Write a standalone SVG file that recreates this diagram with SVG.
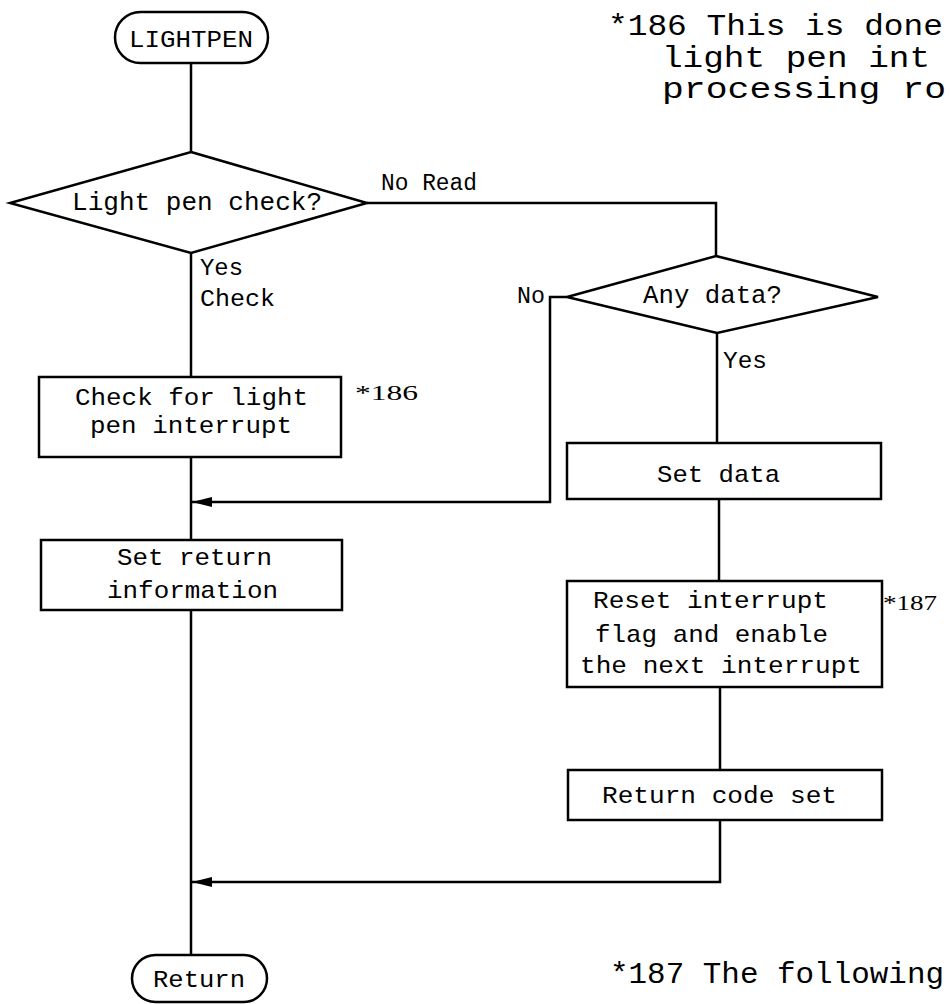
<svg xmlns="http://www.w3.org/2000/svg" width="950" height="1004" viewBox="0 0 950 1004">
<style>
.shape{fill:#fff;stroke:#000;stroke-width:2.5}
.line{fill:none;stroke:#000;stroke-width:2.5}
text{font-family:"Liberation Mono","DejaVu Sans Mono",monospace;fill:#000}
.t{font-size:24px}
.lbl{font-size:23px}
.note{font-size:30px}
.ref{font-family:"Liberation Serif","DejaVu Serif",serif;font-size:21px}
</style>
<defs>
<marker id="arr" markerWidth="20" markerHeight="10" refX="20" refY="5" orient="auto" markerUnits="userSpaceOnUse">
<path d="M0,0 L20,5 L0,10 Z" fill="#000"/>
</marker>
</defs>
<rect width="950" height="1004" fill="#fff"/>
<g id="connectors">
<path class="line" d="M191,63 V152"/>
<path class="line" d="M191,253 V377"/>
<path class="line" d="M191,457 V540"/>
<path class="line" d="M191,610 V955"/>
<path class="line" d="M367,203 H716 V256"/>
<path class="line" d="M717,333 V443"/>
<path class="line" d="M719,499 V581"/>
<path class="line" d="M720,687 V770"/>
<path class="line" d="M567,297 H550 V502 H192" marker-end="url(#arr)"/>
<path class="line" d="M720,820 V882 H192" marker-end="url(#arr)"/>
</g>
<g id="lightpen">
<rect class="shape" x="115" y="12" width="153" height="51" rx="25.5"/>
<text class="t" x="129" y="47" textLength="124" lengthAdjust="spacingAndGlyphs">LIGHTPEN</text>
</g>
<g id="check-decision">
<polygon class="shape" points="191,152 367,203 191,253 10,203"/>
<text x="72" y="210" font-size="26" textLength="250" lengthAdjust="spacingAndGlyphs">Light pen check?</text>
</g>
<g id="any-data">
<polygon class="shape" points="716,256 878,297 717,333 567,297"/>
<text x="643" y="303" font-size="26" textLength="139" lengthAdjust="spacingAndGlyphs">Any data?</text>
</g>
<g id="check-interrupt">
<rect class="shape" x="39" y="377" width="302" height="80"/>
<text class="t" x="75" y="405" textLength="233" lengthAdjust="spacingAndGlyphs">Check for light</text>
<text class="t" x="90" y="433" textLength="202" lengthAdjust="spacingAndGlyphs">pen interrupt</text>
</g>
<g id="set-return">
<rect class="shape" x="41" y="540" width="301" height="70"/>
<text class="t" x="117" y="565" textLength="155" lengthAdjust="spacingAndGlyphs">Set return</text>
<text class="t" x="107" y="598" textLength="171" lengthAdjust="spacingAndGlyphs">information</text>
</g>
<g id="set-data">
<rect class="shape" x="567" y="443" width="314" height="56"/>
<text class="t" x="657" y="482" textLength="123" lengthAdjust="spacingAndGlyphs">Set data</text>
</g>
<g id="reset-interrupt">
<rect class="shape" x="567" y="581" width="315" height="106"/>
<text class="t" x="593" y="608" textLength="235" lengthAdjust="spacingAndGlyphs">Reset interrupt</text>
<text class="t" x="595" y="642" textLength="233" lengthAdjust="spacingAndGlyphs">flag and enable</text>
<text class="t" x="580" y="673" textLength="282" lengthAdjust="spacingAndGlyphs">the next interrupt</text>
</g>
<g id="return-code">
<rect class="shape" x="568" y="770" width="314" height="50"/>
<text class="t" x="602" y="803" textLength="235" lengthAdjust="spacingAndGlyphs">Return code set</text>
</g>
<g id="return">
<rect class="shape" x="132" y="955" width="135" height="47" rx="23.5"/>
<text class="t" x="153" y="987" textLength="92" lengthAdjust="spacingAndGlyphs">Return</text>
</g>
<g id="labels">
<text class="lbl" x="381" y="190" textLength="96" lengthAdjust="spacingAndGlyphs">No Read</text>
<text class="lbl" x="200" y="275" textLength="43" lengthAdjust="spacingAndGlyphs">Yes</text>
<text class="lbl" x="200" y="306" textLength="75" lengthAdjust="spacingAndGlyphs">Check</text>
<text class="lbl" x="517" y="303" textLength="28" lengthAdjust="spacingAndGlyphs">No</text>
<text class="lbl" x="723" y="368" textLength="44" lengthAdjust="spacingAndGlyphs">Yes</text>
<text class="ref" x="355" y="400" textLength="63" lengthAdjust="spacingAndGlyphs">*186</text>
<text class="ref" x="883" y="610" textLength="54" lengthAdjust="spacingAndGlyphs">*187</text>
</g>
<g id="notes">
<text class="note" x="608" y="35" textLength="335" lengthAdjust="spacingAndGlyphs">*186 This is done</text>
<text class="note" x="662" y="67" textLength="268" lengthAdjust="spacingAndGlyphs">light pen int</text>
<text class="note" x="662" y="98" textLength="284" lengthAdjust="spacingAndGlyphs">processing ro</text>
<text class="note" x="610" y="983" textLength="334" lengthAdjust="spacingAndGlyphs">*187 The following</text>
</g>
</svg>
